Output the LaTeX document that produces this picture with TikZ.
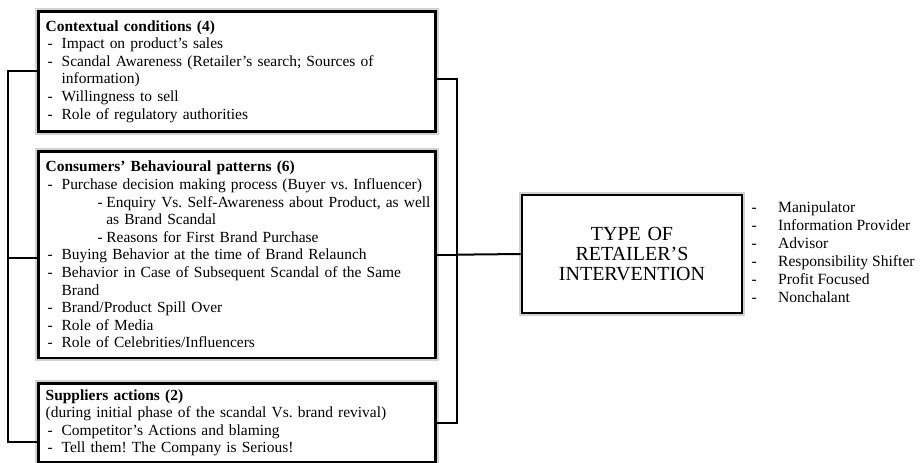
\documentclass[tikz,border=0pt]{standalone}
\usepackage{fontspec}
\setmainfont{Liberation Serif}
\usepackage{tikz}
\usetikzlibrary{positioning}

% dash items inside the boxes
\newcommand{\dashline}[1]{\par\noindent\hangindent=12pt\hangafter=1\makebox[12pt][l]{\hspace{1.5pt}-}#1}
\newcommand{\subdashline}[1]{\par\noindent\hangindent=45.5pt\hangafter=1\hspace*{39pt}\makebox[6.5pt][l]{-}#1}
\newcommand{\boxfont}{\fontsize{11.6pt}{13.2pt}\selectfont\frenchspacing\hyphenpenalty=10000\exhyphenpenalty=10000\hfuzz=20pt}

\begin{document}
\begin{tikzpicture}[x=0.75pt, y=-0.75pt]

% Defined styles
\tikzstyle{catbox} = [rectangle, draw=black, line width=2pt, fill=white, preaction={draw=gray!35, line width=5pt}, text width=287pt, inner xsep=5.5pt, inner ysep=4.5pt, align=left, font=\boxfont, anchor=north west]
\tikzstyle{typebox} = [rectangle, draw=black, line width=2pt, fill=white, preaction={draw=gray!35, line width=5pt}, minimum width=165pt, minimum height=88.5pt, text width=155pt, align=center, font=\fontsize{15pt}{15.3pt}\selectfont]
\tikzstyle{link} = [line width=1.5pt]

\useasboundingbox (0,0) rectangle (923,462);

% --- Bracket bars ---
\coordinate (lbar) at (8,0);
\coordinate (rbar) at (457,0);

% --- Left column ---
\node (ctx) [catbox, minimum height=90pt] at (37,10) {\textbf{Contextual conditions (4)}
  \dashline{Impact on product’s sales}
  \dashline{Scandal Awareness (Retailer’s search; Sources of information)}
  \dashline{Willingness to sell}
  \dashline{Role of regulatory authorities}};
\node (cons) [catbox, minimum height=155pt] at (37,150) {\textbf{Consumers’ Behavioural patterns (6)}
  \dashline{Purchase decision making process (Buyer vs. Influencer)}
  \subdashline{\mbox{Enquiry Vs. Self-Awareness about Product, as well}\newline as Brand Scandal}
  \subdashline{Reasons for First Brand Purchase}
  \dashline{Buying Behavior at the time of Brand Relaunch}
  \dashline{Behavior in Case of Subsequent Scandal of the Same Brand}
  \dashline{Brand/Product Spill Over}
  \dashline{Role of Media}
  \dashline{Role of Celebrities/Influencers}};
\node (sup) [catbox] at (37,382) {\textbf{Suppliers actions (2)}
  \par\noindent(during initial phase of the scandal Vs. brand revival)
  \dashline{Competitor’s Actions and blaming}
  \dashline{Tell them! The Company is Serious!}};

% --- Right side ---
\node (rtype) [typebox] at (632,254) {TYPE OF\\ RETAILER’S\\ INTERVENTION};
\node (roles) [right=6pt of rtype, inner sep=0pt, font=\fontsize{11.7pt}{13.5pt}\selectfont] {%
  \begin{tabular}{@{}l@{\hspace{16pt}}l@{}}
  - & Manipulator\\
  - & Information Provider\\
  - & Advisor\\
  - & Responsibility Shifter\\
  - & Profit Focused\\
  - & Nonchalant
  \end{tabular}};

% --- Connectors ---
\draw [link] (ctx.west) -- (ctx.west -| lbar) |- ([yshift=-14.5pt]sup.west);
\draw [link] ([yshift=-2.5pt]cons.west) -- ([yshift=-2.5pt]cons.west -| lbar);
\draw [link] ([yshift=-6pt]ctx.east) -- ([yshift=-6pt]ctx.east -| rbar) |- ([yshift=0pt]sup.east);
\draw [link] (cons.east) -- (cons.east -| rbar);
\draw [link] (cons.east -| rbar) -- (rtype.west);

\end{tikzpicture}
\end{document}
